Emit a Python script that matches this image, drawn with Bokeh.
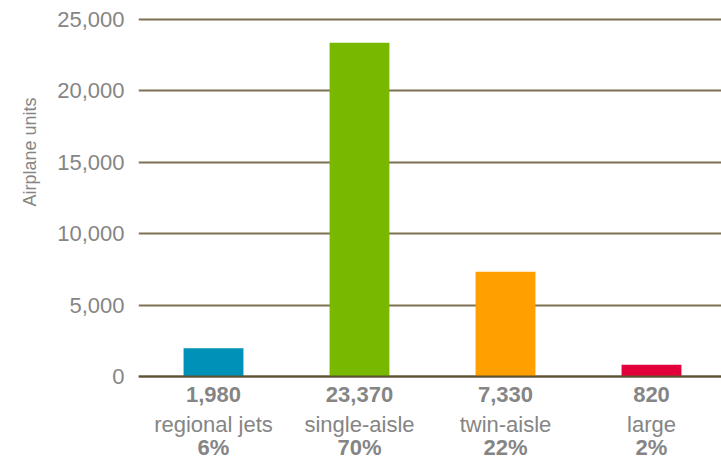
from bokeh.plotting import figure
from bokeh.models import FixedTicker, Range1d, Title, Span, ColumnDataSource, NumeralTickFormatter
from bokeh.core.properties import value
from bokeh.embed import file_html
from bokeh.resources import INLINE

categories = ["regional jets", "single-aisle", "twin-aisle", "large"]
units = [1980, 23370, 7330, 820]
percents = ["6%", "70%", "22%", "2%"]
colors = ["#0091b8", "#78b900", "#ffa000", "#e4003a"]
y_ticks = [0, 5000, 10000, 15000, 20000, 25000]
y_title = "Airplane units"

xs = list(range(len(categories)))
src = ColumnDataSource(dict(
    x=xs, top=units, color=colors, cat=categories, pct=percents,
    val=[f"{v:,}" for v in units],
))

FONT = "Liberation Sans"
GRID = "#7d7152"
GRAY = "#858585"

p = figure(width=721, height=459, output_backend="svg", toolbar_location=None,
           x_axis_type=None,
           min_border_left=138, min_border_right=0, min_border_top=10, min_border_bottom=0)
p.outline_line_color = None
p.background_fill_color = "white"
p.border_fill_color = "white"

px_per_unit = 357 / 25000.0
x0 = -75 / 146.0
p.y_range = Range1d(-(459 - 376) / px_per_unit, (376 - 10) / px_per_unit)
p.x_range = Range1d(x0, x0 + 583 / 146.0)

p.vbar(x="x", top="top", bottom=0, width=0.41, fill_color="color", line_color=None, source=src)

p.add_layout(Span(location=0, dimension="width", line_color="#5e5030", line_width=2, level="overlay"))

p.yaxis.ticker = FixedTicker(ticks=y_ticks)
p.yaxis.formatter = NumeralTickFormatter(format="0,0")
p.yaxis.axis_line_color = None
p.yaxis.major_tick_line_color = None
p.yaxis.minor_tick_line_color = None
p.yaxis.major_label_standoff = 8
p.yaxis.major_label_text_font = FONT
p.yaxis.major_label_text_font_size = "22px"
p.yaxis.major_label_text_color = GRAY

p.ygrid.ticker = FixedTicker(ticks=y_ticks)
p.ygrid.grid_line_color = GRID
p.ygrid.grid_line_width = 2
p.xgrid.grid_line_color = None

p.add_layout(Title(text=y_title, align="right", offset=87, standoff=30,
                   text_font=FONT, text_font_size="18px", text_font_style="normal",
                   text_color=GRAY), "left")

common = dict(x="x", y=0, source=src, text_align="center", text_baseline="alphabetic",
              text_font=value(FONT), text_font_size="22px", text_color=GRAY)
p.text(text="val", y_offset=18, text_font_style="bold", **common)
p.text(text="cat", y_offset=48, text_font_style="normal", **common)
p.text(text="pct", y_offset=71, text_font_style="bold", **common)

open("out.html", "w").write(file_html(p, INLINE))
